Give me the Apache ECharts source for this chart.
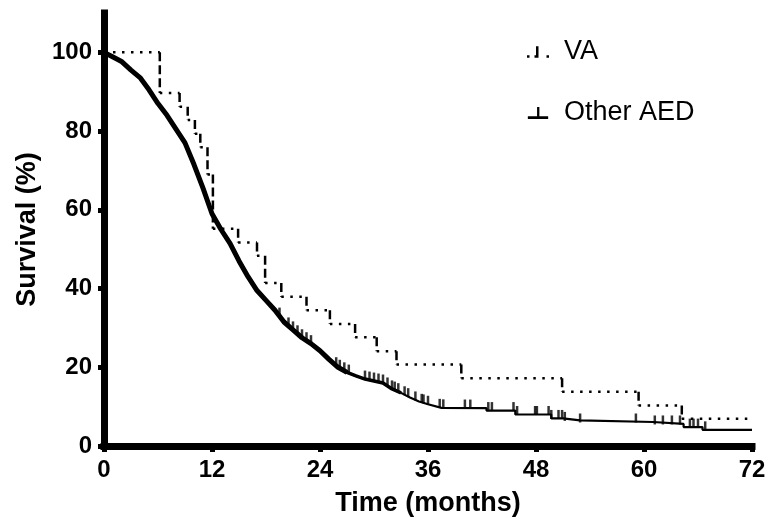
<!DOCTYPE html>
<html>
<head>
<meta charset="utf-8">
<script src="https://cdn.jsdelivr.net/npm/echarts@6/dist/echarts.min.js"></script>
<style>
html,body{margin:0;padding:0;background:#fff;}
#chart{width:771px;height:529px;}
</style>
</head>
<body>
<div id="chart"></div>
<script>
// ---- Data ----
const xTicks = [0, 12, 24, 36, 48, 60, 72];
const yTicks = [0, 20, 40, 60, 80, 100];

// VA (Kaplan-Meier step points: time of event, survival after event)
const vaTime = [0, 6.2, 8.4, 9.3, 10.1, 10.7, 11.5, 12.1, 14.9, 17.0, 17.9, 19.7, 22.5, 25.1, 27.9, 30.3, 32.5, 39.7, 50.9, 59.4, 64.2, 72];
const vaSurv = [100, 89.7, 86.2, 82.8, 79.3, 75.9, 69.0, 55.2, 51.7, 48.3, 41.4, 37.9, 34.5, 31.0, 27.6, 24.1, 20.7, 17.2, 13.8, 10.3, 6.9, 6.9];

// Other AED (dense curve early, explicit steps later)
const aedTime = [0, 1, 2, 3, 4, 5, 6, 7, 8, 9, 10, 11, 12, 13, 14, 15, 16, 17, 18, 19, 20, 21, 22, 23, 24, 25, 26, 27, 28, 29, 30, 31, 32, 33, 34, 35, 36, 37.5, 42.5, 42.5, 45.7, 45.7, 49.7, 49.7, 51.0, 51.0, 52.9, 52.9, 61.0, 61.0, 64.4, 64.4, 66.5, 66.5, 72];
const aedSurv = [100, 98.8, 97.6, 95.5, 93.6, 90.5, 87.0, 84.0, 80.5, 77.0, 71.5, 65.5, 59.0, 55.0, 51.5, 47.0, 43.0, 39.5, 37.0, 34.5, 31.5, 29.5, 27.5, 26.0, 24.2, 22.0, 20.0, 18.7, 17.8, 17.0, 16.5, 16.0, 14.5, 13.5, 12.3, 11.3, 10.6, 9.7, 9.6, 9.0, 9.0, 8.0, 8.0, 7.0, 7.0, 6.5, 6.5, 6.1, 6.1, 5.6, 5.6, 4.8, 4.8, 4.1, 4.1];

// Censoring times on Other AED curve
const aedCensor = [19.5, 20.5, 21.0, 21.5, 22.0, 22.5, 23.0, 25.8, 26.2, 26.7, 27.2, 29.0, 29.5, 30.0, 30.5, 31.0, 31.5, 32.0, 32.3, 32.7, 33.4, 33.8, 34.6, 35.3, 35.5, 36.0, 37.3, 37.7, 40.1, 40.7, 42.7, 43.1, 45.5, 45.9, 47.9, 48.1, 49.4, 49.7, 50.5, 50.9, 51.2, 52.9, 59.1, 61.2, 62.1, 63.1, 64.0, 65.1, 65.5, 66.0, 66.8];

// ---- Build series data ----
function curveAt(t) {
  let v = aedSurv[0];
  for (let i = 0; i < aedTime.length - 1; i++) {
    const t0 = aedTime[i], t1 = aedTime[i + 1];
    if (t >= t0 && t <= t1) {
      if (t1 === t0) { v = aedSurv[i + 1]; continue; }
      v = aedSurv[i] + (aedSurv[i + 1] - aedSurv[i]) * (t - t0) / (t1 - t0);
      if (t < t1) return v;
    }
  }
  return v;
}
const aedData = aedTime.map((t, i) => [t, aedSurv[i]]);
const aedThick = aedData.filter(p => p[0] <= 27);
const aedMid = aedData.filter(p => p[0] <= 33);
const censorData = aedCensor.map(t => [t, curveAt(t)]);

const vaH = [], vaV = [];
for (let i = 0; i < vaTime.length - 1; i++) {
  vaH.push([vaTime[i], vaSurv[i]], [vaTime[i + 1], vaSurv[i]], ['-', '-']);
}
for (let i = 1; i < vaTime.length; i++) {
  if (vaSurv[i] !== vaSurv[i - 1]) {
    vaV.push([vaTime[i], vaSurv[i - 1]], [vaTime[i], vaSurv[i]], ['-', '-']);
  }
}

const FONT = 'Liberation Sans, Arial, Helvetica, sans-serif';
const chart = echarts.init(document.getElementById('chart'), null, {renderer: 'canvas'});
chart.setOption({
  animation: false,
  backgroundColor: '#ffffff',
  grid: {left: 104, right: 19, top: 13, bottom: 83},
  legend: {
    orient: 'vertical',
    left: 522,
    top: 32,
    itemWidth: 22,
    itemHeight: 12,
    itemGap: 31,
    textStyle: {fontFamily: FONT, fontSize: 27, color: '#000', lineHeight: 30, padding: [0, 0, 0, 10]},
    data: [
      {name: 'VA', icon: 'path://M0,11h2.5v2.5h-2.5z M9,2h2.5v11.5h-4v-2.5h1.5z M19.5,11h2.5v2.5h-2.5z', itemStyle: {color: '#000'}},
      {name: 'Other AED', icon: 'path://M0,10h22v3h-22z M10,0h2.5v10h-2.5z', itemStyle: {color: '#000'}}
    ]
  },
  xAxis: {
    type: 'value',
    min: 0, max: 72, interval: 12,
    name: 'Time (months)',
    nameLocation: 'middle',
    nameGap: 44,
    nameTextStyle: {fontFamily: FONT, fontSize: 27, fontWeight: 'bold', color: '#000'},
    axisLine: {show: true, onZero: false, lineStyle: {color: '#000', width: 7, cap: 'square'}},
    axisTick: {show: true, length: 6, lineStyle: {color: '#000', width: 5}, customValues: xTicks},
    axisLabel: {fontFamily: FONT, fontSize: 24, fontWeight: 'bold', color: '#000', margin: 12, customValues: xTicks},
    splitLine: {show: false}
  },
  yAxis: {
    type: 'value',
    min: 0, max: 110,
    name: 'Survival (%)',
    nameLocation: 'middle',
    nameGap: 63,
    nameTextStyle: {fontFamily: FONT, fontSize: 27, fontWeight: 'bold', color: '#000'},
    axisLine: {show: true, onZero: false, lineStyle: {color: '#000', width: 7, cap: 'square'}},
    axisTick: {show: true, length: 6, lineStyle: {color: '#000', width: 5}, customValues: yTicks},
    axisLabel: {fontFamily: FONT, fontSize: 24, fontWeight: 'bold', color: '#000', margin: 12, customValues: yTicks},
    splitLine: {show: false}
  },
  series: [
    {
      name: 'VA', type: 'line', data: vaH, showSymbol: false, connectNulls: false,
      lineStyle: {color: '#000', width: 2.5, type: [2.5, 6.5]}, z: 3
    },
    {
      name: 'VA', type: 'line', data: vaV, showSymbol: false, connectNulls: false,
      lineStyle: {color: '#000', width: 2.5, type: [9, 4]}, z: 3
    },
    {
      name: 'Other AED', type: 'line', data: aedData, showSymbol: false,
      lineStyle: {color: '#000', width: 2.2}, z: 4
    },
    {
      name: 'aedMid', type: 'line', data: aedMid, showSymbol: false,
      lineStyle: {color: '#000', width: 3.5}, z: 4
    },
    {
      name: 'aedThick', type: 'line', data: aedThick, showSymbol: false,
      lineStyle: {color: '#000', width: 5}, z: 4
    },
    {
      name: 'censor', type: 'scatter', data: censorData,
      symbol: 'rect', symbolSize: [2.5, 9], symbolOffset: [0, -4],
      itemStyle: {color: '#000'}, z: 5
    }
  ]
});
</script>
</body>
</html>
